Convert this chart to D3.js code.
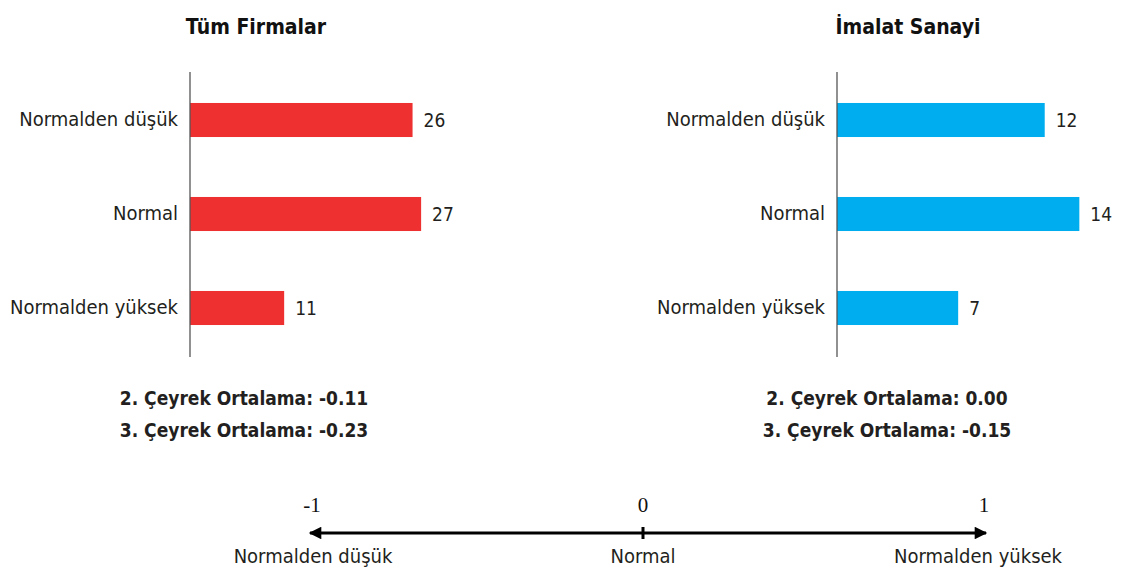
<!DOCTYPE html>
<html><head><meta charset="utf-8">
<script src="https://cdn.jsdelivr.net/npm/d3@7"></script>
<style>
body{margin:0;background:#fff;}
svg{display:block;}
</style>
</head><body>
<svg id="c" width="1123" height="570"></svg>
<script>
const categories = ["Normalden düşük", "Normal", "Normalden yüksek"];
const tumFirmalar = [26, 27, 11];
const imalatSanayi = [12, 14, 7];
const panelTitles = ["Tüm Firmalar", "İmalat Sanayi"];
const avgLeft = ["2. Çeyrek Ortalama: -0.11", "3. Çeyrek Ortalama: -0.23"];
const avgRight = ["2. Çeyrek Ortalama: 0.00", "3. Çeyrek Ortalama: -0.15"];
const scaleTicks = [-1, 0, 1];
const scaleLabels = ["Normalden düşük", "Normal", "Normalden yüksek"];

const svg = d3.select("#c");
const textColor = "#231f20";
const labelFont = '"DejaVu Sans Condensed","Liberation Sans Narrow",Roboto,sans-serif';

const y = d3.scaleBand().domain(categories).range([73, 355]).paddingInner(0.638).paddingOuter(0.319);

function panel(cfg) {
  const g = svg.append("g");
  const x = d3.scaleLinear().domain([0, cfg.max]).range([cfg.x0, cfg.x1]);
  g.selectAll("rect").data(cfg.values).join("rect")
    .attr("x", x(0)).attr("y", (d, i) => y(categories[i]))
    .attr("width", d => x(d) - x(0)).attr("height", y.bandwidth())
    .attr("fill", cfg.color);
  const ax = d3.axisLeft(y).tickSize(0).tickPadding(12);
  const axg = g.append("g").attr("transform", `translate(${x(0)},0)`).call(ax);
  axg.select(".domain").attr("stroke", "#555").attr("stroke-width", 1.3).attr("d", `M0,72V357`);
  axg.selectAll("text").attr("font-family", labelFont).attr("font-size", 20).attr("fill", textColor);
  g.selectAll("text.val").data(cfg.values).join("text").attr("class", "val")
    .attr("x", d => x(d) + 11).attr("y", (d, i) => y(categories[i]) + y.bandwidth() / 2)
    .attr("dy", "0.35em").attr("font-family", labelFont).attr("font-size", 19).attr("fill", textColor)
    .text(d => d);
  g.append("text").attr("x", cfg.titleX).attr("y", 34).attr("text-anchor", "middle")
    .attr("font-family", labelFont).attr("font-weight", 900).attr("font-size", 21).attr("fill", "#111")
    .text(cfg.title);
  g.selectAll("text.avg").data(cfg.avg).join("text").attr("class", "avg")
    .attr("x", cfg.avgX).attr("y", (d, i) => 405 + i * 32).attr("text-anchor", "middle")
    .attr("font-family", labelFont).attr("font-weight", 700).attr("font-size", 19).attr("fill", textColor)
    .text(d => d);
}

panel({values: tumFirmalar, max: 30, x0: 190, x1: 190 + 30 * 8.56, color: "#ef3030",
  title: panelTitles[0], titleX: 256, avg: avgLeft, avgX: 244});
panel({values: imalatSanayi, max: 15, x0: 837, x1: 837 + 15 * 17.31, color: "#00aeef",
  title: panelTitles[1], titleX: 908, avg: avgRight, avgX: 887});

// bottom scale
const sx = d3.scaleLinear().domain(scaleTicks).range([312, 643, 984]);
const lineY = 533;
const defs = svg.append("defs");
defs.append("marker").attr("id", "arr").attr("viewBox", "0 0 10 10").attr("refX", 9).attr("refY", 5)
  .attr("markerWidth", 5).attr("markerHeight", 4.2).attr("markerUnits", "strokeWidth").attr("orient", "auto-start-reverse")
  .append("path").attr("d", "M0,0L10,5L0,10z").attr("fill", "#000");
svg.append("line").attr("x1", sx(-1) - 2).attr("x2", sx(1) + 2).attr("y1", lineY).attr("y2", lineY)
  .attr("stroke", "#000").attr("stroke-width", 3)
  .attr("marker-start", "url(#arr)").attr("marker-end", "url(#arr)");
svg.append("line").attr("x1", sx(0)).attr("x2", sx(0)).attr("y1", lineY - 6).attr("y2", lineY + 6)
  .attr("stroke", "#000").attr("stroke-width", 3);
svg.selectAll("text.tk").data(scaleTicks).join("text").attr("class", "tk")
  .attr("x", d => sx(d)).attr("y", 512).attr("text-anchor", "middle")
  .attr("font-family", '"Liberation Serif","DejaVu Serif",serif').attr("font-size", 21).attr("fill", "#111")
  .text(d => d);
const labX = [313, 643, 978];
svg.selectAll("text.sl").data(scaleLabels).join("text").attr("class", "sl")
  .attr("x", (d, i) => labX[i]).attr("y", 563).attr("text-anchor", "middle")
  .attr("font-family", labelFont).attr("font-size", 20).attr("fill", textColor)
  .text(d => d);
</script>
</body></html>
